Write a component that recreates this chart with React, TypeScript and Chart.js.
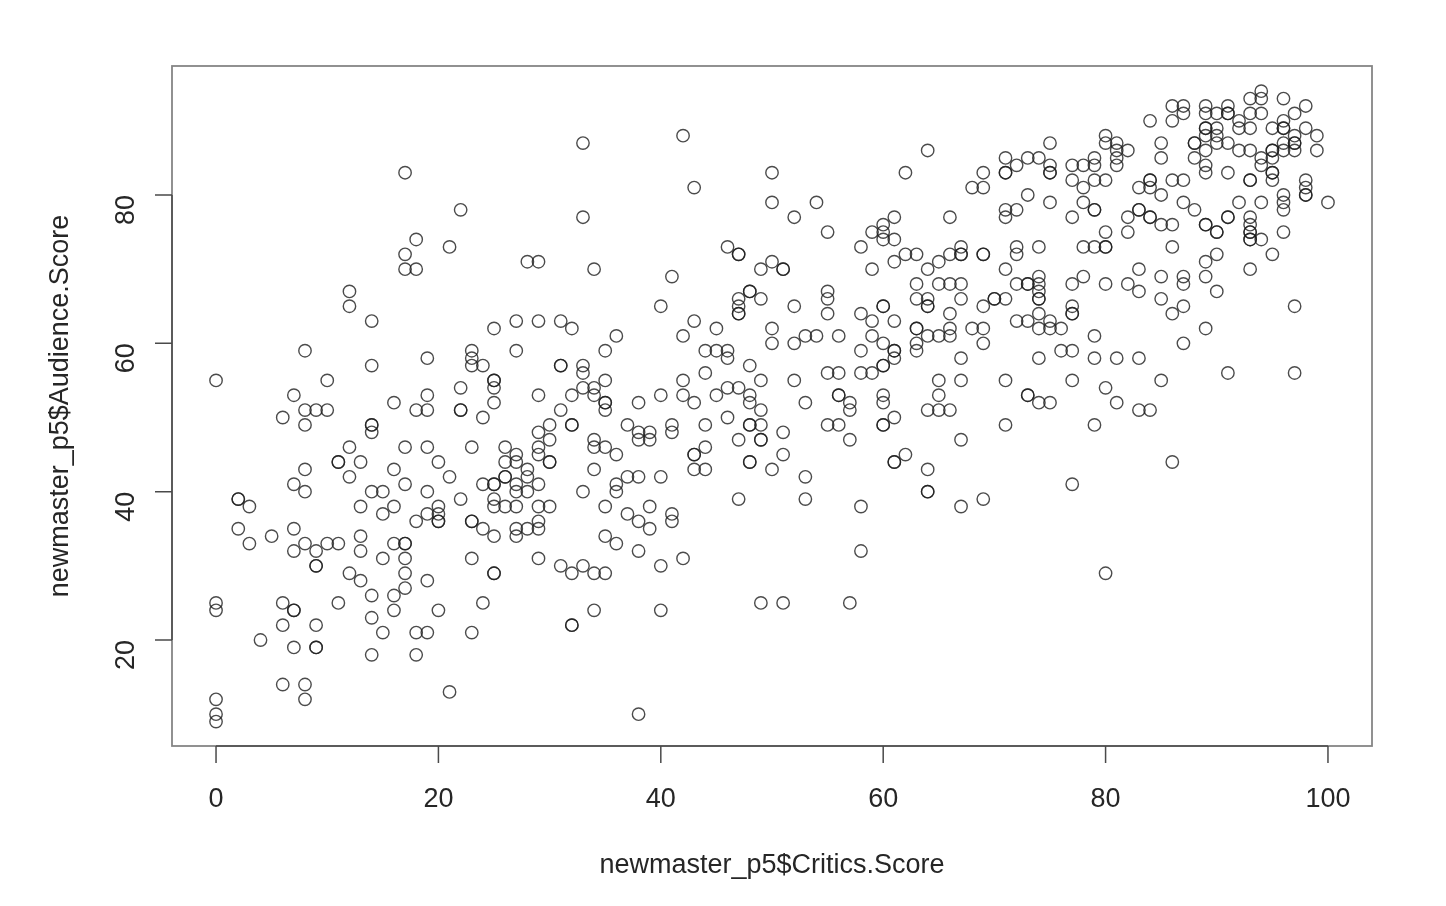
import React, { useEffect, useRef } from "react";
import { Chart, registerables, Plugin } from "chart.js";

Chart.register(...registerables);

type Pair = [number, number];

// [Critics.Score, Audience.Score]; a pair listed twice is an overplotted (darker) circle.
const critics0to9: Pair[] = [
  [0,55],[0,25],[0,24],[0,12],[0,10],[0,9],[2,39],[2,39],[2,35],[3,38],[3,33],[4,20],[5,34],
  [6,50],[6,25],[6,22],[6,14],[7,53],[7,41],[7,35],[7,32],[7,24],[7,24],[7,19],
  [8,59],[8,51],[8,49],[8,43],[8,40],[8,33],[8,14],[8,12],[9,51],[9,32],[9,30],[9,30],[9,22],[9,19],[9,19],
];
const critics10to19: Pair[] = [
  [10,55],[10,51],[10,33],[11,44],[11,44],[11,33],[11,25],[12,67],[12,65],[12,46],[12,42],[12,29],
  [13,44],[13,38],[13,34],[13,32],[13,28],[14,63],[14,57],[14,49],[14,49],[14,48],[14,40],[14,26],[14,23],[14,18],
  [15,40],[15,37],[15,31],[15,21],[16,52],[16,43],[16,38],[16,33],[16,26],[16,24],
  [17,83],[17,72],[17,70],[17,46],[17,41],[17,33],[17,33],[17,31],[17,29],[17,27],
  [18,74],[18,70],[18,51],[18,36],[18,21],[18,18],[19,58],[19,53],[19,51],[19,46],[19,40],[19,37],[19,28],[19,21],
];
const critics20to29: Pair[] = [
  [20,44],[20,38],[20,37],[20,36],[20,36],[20,24],[21,73],[21,42],[21,13],[22,78],[22,54],[22,51],[22,51],[22,39],
  [23,59],[23,58],[23,57],[23,46],[23,36],[23,36],[23,31],[23,21],[24,57],[24,50],[24,41],[24,35],[24,25],
  [25,62],[25,55],[25,55],[25,54],[25,52],[25,41],[25,41],[25,39],[25,38],[25,34],[25,29],[25,29],
  [26,46],[26,44],[26,42],[26,42],[26,38],[27,63],[27,59],[27,45],[27,44],[27,41],[27,40],[27,38],[27,35],[27,34],
  [28,71],[28,43],[28,42],[28,40],[28,35],[29,71],[29,63],[29,53],[29,48],[29,46],[29,45],[29,41],[29,38],[29,36],[29,35],[29,31],
];
const critics30to39: Pair[] = [
  [30,49],[30,47],[30,44],[30,44],[30,38],[31,63],[31,57],[31,57],[31,51],[31,30],[32,62],[32,53],[32,49],[32,49],[32,29],[32,22],[32,22],
  [33,87],[33,77],[33,57],[33,56],[33,54],[33,40],[33,30],[34,70],[34,54],[34,53],[34,47],[34,46],[34,43],[34,29],[34,24],
  [35,59],[35,55],[35,52],[35,52],[35,51],[35,46],[35,38],[35,34],[35,29],[36,61],[36,45],[36,41],[36,40],[36,33],
  [37,49],[37,42],[37,37],[38,52],[38,48],[38,47],[38,42],[38,36],[38,32],[38,10],[39,48],[39,47],[39,38],[39,35],
];
const critics40to49: Pair[] = [
  [40,65],[40,53],[40,42],[40,30],[40,24],[41,69],[41,49],[41,48],[41,37],[41,36],[42,88],[42,61],[42,55],[42,53],[42,31],
  [43,81],[43,63],[43,52],[43,45],[43,45],[43,43],[44,59],[44,56],[44,49],[44,46],[44,43],[45,62],[45,59],[45,53],
  [46,73],[46,59],[46,58],[46,54],[46,50],[47,72],[47,72],[47,66],[47,65],[47,64],[47,64],[47,54],[47,47],[47,39],
  [48,67],[48,67],[48,57],[48,53],[48,52],[48,49],[48,49],[48,44],[48,44],[49,70],[49,66],[49,55],[49,51],[49,49],[49,47],[49,47],[49,25],
];
const critics50to59: Pair[] = [
  [50,83],[50,79],[50,71],[50,62],[50,60],[50,43],[51,70],[51,70],[51,48],[51,45],[51,25],[52,77],[52,65],[52,60],[52,55],
  [53,61],[53,52],[53,42],[53,39],[54,79],[54,61],[55,75],[55,67],[55,66],[55,64],[55,56],[55,49],[56,61],[56,56],[56,53],[56,53],[56,49],
  [57,52],[57,51],[57,47],[57,25],[58,73],[58,64],[58,59],[58,56],[58,38],[58,32],[59,75],[59,70],[59,63],[59,61],[59,56],
];
const critics60to69: Pair[] = [
  [60,76],[60,75],[60,74],[60,65],[60,65],[60,60],[60,57],[60,57],[60,53],[60,52],[60,49],[60,49],
  [61,77],[61,74],[61,71],[61,63],[61,59],[61,59],[61,58],[61,50],[61,44],[61,44],[62,83],[62,72],[62,45],
  [63,72],[63,68],[63,66],[63,62],[63,62],[63,60],[63,59],[64,86],[64,70],[64,66],[64,65],[64,65],[64,61],[64,51],[64,43],[64,40],[64,40],
  [65,71],[65,68],[65,61],[65,55],[65,53],[65,51],[66,77],[66,72],[66,68],[66,64],[66,62],[66,61],[66,51],
  [67,73],[67,72],[67,72],[67,68],[67,66],[67,58],[67,55],[67,47],[67,38],[68,81],[68,62],
  [69,83],[69,81],[69,72],[69,72],[69,65],[69,62],[69,60],[69,39],
];
const critics70to79: Pair[] = [
  [70,66],[70,66],[71,85],[71,83],[71,83],[71,78],[71,77],[71,70],[71,66],[71,55],[71,49],
  [72,84],[72,78],[72,73],[72,72],[72,68],[72,63],[73,85],[73,80],[73,68],[73,68],[73,63],[73,53],[73,53],
  [74,85],[74,73],[74,69],[74,68],[74,67],[74,66],[74,66],[74,64],[74,62],[74,58],[74,52],
  [75,87],[75,84],[75,83],[75,83],[75,79],[75,63],[75,62],[75,52],[76,62],[76,59],
  [77,84],[77,82],[77,77],[77,68],[77,65],[77,64],[77,64],[77,59],[77,55],[77,41],[78,84],[78,81],[78,79],[78,73],[78,69],
  [79,85],[79,84],[79,82],[79,78],[79,78],[79,73],[79,61],[79,58],[79,49],
];
const critics80to89: Pair[] = [
  [80,88],[80,87],[80,82],[80,75],[80,73],[80,73],[80,68],[80,54],[80,29],[81,87],[81,86],[81,85],[81,84],[81,58],[81,52],
  [82,86],[82,77],[82,75],[82,68],[83,81],[83,78],[83,78],[83,70],[83,67],[83,58],[83,51],[84,90],[84,82],[84,82],[84,81],[84,77],[84,77],[84,51],
  [85,87],[85,85],[85,80],[85,76],[85,69],[85,66],[85,55],[86,92],[86,90],[86,82],[86,76],[86,73],[86,64],[86,44],
  [87,92],[87,91],[87,82],[87,79],[87,69],[87,68],[87,65],[87,60],[88,87],[88,87],[88,85],[88,78],
  [89,92],[89,91],[89,89],[89,89],[89,88],[89,86],[89,84],[89,83],[89,76],[89,76],[89,71],[89,69],[89,62],
];
const critics90to100: Pair[] = [
  [90,91],[90,89],[90,88],[90,87],[90,75],[90,75],[90,72],[90,67],[91,92],[91,91],[91,91],[91,87],[91,83],[91,77],[91,77],[91,56],
  [92,90],[92,89],[92,86],[92,79],[93,93],[93,91],[93,89],[93,86],[93,82],[93,82],[93,77],[93,76],[93,75],[93,75],[93,74],[93,74],[93,70],
  [94,94],[94,93],[94,91],[94,85],[94,84],[94,79],[94,74],[95,89],[95,86],[95,86],[95,85],[95,83],[95,83],[95,82],[95,72],
  [96,93],[96,90],[96,89],[96,89],[96,87],[96,86],[96,80],[96,79],[96,78],[96,75],[97,91],[97,88],[97,87],[97,87],[97,86],[97,65],[97,56],
  [98,92],[98,89],[98,82],[98,81],[98,80],[98,80],[99,88],[99,86],[100,79],
];

const xTicks = [0, 20, 40, 60, 80, 100];
const yTicks = [20, 40, 60, 80];
const xTitle = "newmaster_p5$Critics.Score";
const yTitle = "newmaster_p5$Audience.Score";

const allPairs: Pair[] = [
  ...critics0to9, ...critics10to19, ...critics20to29, ...critics30to39, ...critics40to49,
  ...critics50to59, ...critics60to69, ...critics70to79, ...critics80to89, ...critics90to100,
];

const FONT = "'Liberation Sans', Arial, sans-serif";
const INK = "#262626";

const rAxes: Plugin<"scatter"> = {
  id: "rAxes",
  beforeDatasetsDraw(chart) {
    const { ctx, chartArea: a, scales } = chart;
    const x = scales.x;
    const y = scales.y;
    ctx.save();
    ctx.strokeStyle = "#858585";
    ctx.lineWidth = 1.8;
    ctx.strokeRect(a.left, a.top, a.right - a.left, a.bottom - a.top);
    ctx.strokeStyle = "#4a4a4a";
    ctx.lineWidth = 1.5;
    const tick = 17;
    ctx.beginPath();
    ctx.moveTo(x.getPixelForValue(xTicks[0]), a.bottom);
    ctx.lineTo(x.getPixelForValue(xTicks[xTicks.length - 1]), a.bottom);
    ctx.moveTo(a.left, y.getPixelForValue(yTicks[0]));
    ctx.lineTo(a.left, y.getPixelForValue(yTicks[yTicks.length - 1]));
    xTicks.forEach((t) => {
      const p = x.getPixelForValue(t);
      ctx.moveTo(p, a.bottom);
      ctx.lineTo(p, a.bottom + tick);
    });
    yTicks.forEach((t) => {
      const p = y.getPixelForValue(t);
      ctx.moveTo(a.left, p);
      ctx.lineTo(a.left - tick, p);
    });
    ctx.stroke();
    ctx.restore();
  },
};

export default function App() {
  const ref = useRef<HTMLCanvasElement | null>(null);

  useEffect(() => {
    document.body.style.margin = "0";
    document.body.style.background = "#fff";
    const chart = new Chart(ref.current as HTMLCanvasElement, {
      type: "scatter",
      data: {
        datasets: [
          {
            data: allPairs.map(([x, y]) => ({ x, y })),
            pointStyle: "circle",
            pointRadius: 6.2,
            pointBorderWidth: 1.4,
            pointBackgroundColor: "rgba(0,0,0,0)",
            pointBorderColor: "rgba(30,30,30,0.8)",
          },
        ],
      },
      options: {
        animation: false,
        responsive: false,
        devicePixelRatio: 1,
        layout: { padding: { top: 66, right: 74, left: 0, bottom: 0 } },
        plugins: { legend: { display: false }, tooltip: { enabled: false } },
        scales: {
          x: {
            type: "linear",
            min: -3.96,
            max: 103.96,
            afterBuildTicks: (s) => {
              s.ticks = xTicks.map((value) => ({ value }));
            },
            afterFit: (s) => {
              s.height = 160;
            },
            grid: { display: false },
            border: { display: false },
            ticks: {
              color: INK,
              font: { family: FONT, size: 27 },
              padding: 29,
              maxRotation: 0,
              autoSkip: false,
            },
            title: {
              display: true,
              text: xTitle,
              color: INK,
              font: { family: FONT, size: 27 },
              padding: { top: 22, bottom: 24 },
            },
          },
          y: {
            type: "linear",
            min: 5.71,
            max: 97.39,
            afterBuildTicks: (s) => {
              s.ticks = yTicks.map((value) => ({ value }));
            },
            afterFit: (s) => {
              s.width = 172;
            },
            grid: { display: false },
            border: { display: false },
            ticks: {
              color: INK,
              font: { family: FONT, size: 27 },
              padding: 37,
              minRotation: 90,
              maxRotation: 90,
              autoSkip: false,
            },
            title: {
              display: true,
              text: yTitle,
              color: INK,
              font: { family: FONT, size: 27 },
              padding: { top: 44, bottom: 0 },
            },
          },
        },
      },
      plugins: [rAxes],
    });
    return () => chart.destroy();
  }, []);

  return <canvas ref={ref} width={1446} height={906} style={{ display: "block", filter: "blur(0.4px)" }} />;
}
